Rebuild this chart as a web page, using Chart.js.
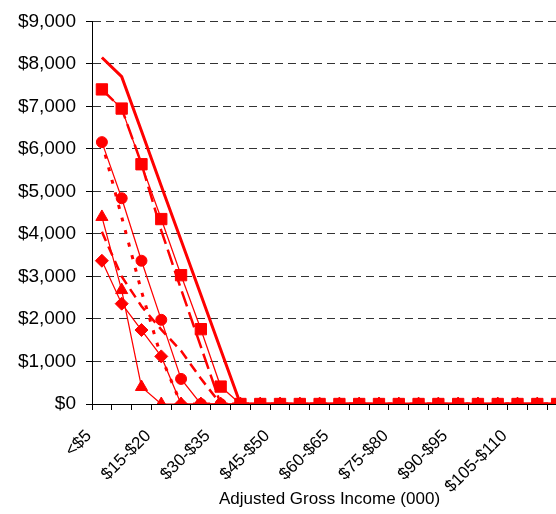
<!DOCTYPE html>
<html>
<head>
<meta charset="utf-8">
<script src="https://cdn.jsdelivr.net/npm/chart.js@4.4.1/dist/chart.umd.min.js"></script>
<style>
  html, body { margin: 0; padding: 0; background: #fff; overflow: hidden; }
  #wrap { width: 556px; height: 514px; overflow: hidden; }
</style>
</head>
<body>
<div id="wrap"><canvas id="agi-chart" width="576" height="514"></canvas></div>
<script>
// Income bands (thousands of dollars)
const incomeBands = [
  "<$5", "$5-$10", "$10-$15", "$15-$20", "$20-$25", "$25-$30",
  "$30-$35", "$35-$40", "$40-$45", "$45-$50", "$50-$55", "$55-$60",
  "$60-$65", "$65-$70", "$70-$75", "$75-$80", "$80-$85", "$85-$90",
  "$90-$95", "$95-$100", "$100-$105", "$105-$110", "$110-$115", "$115-$120"
];

// Series values
const thickSolid = [8150, 7700, 6420, 5130, 3850, 2570, 1280, 0, 0, 0, 0, 0,
                    0, 0, 0, 0, 0, 0, 0, 0, 0, 0, 0, 0];
const squares    = [7400, 6950, 5640, 4350, 3030, 1760, 410, 0, 0, 0, 0, 0,
                    0, 0, 0, 0, 0, 0, 0, 0, 0, 0, 0, 0];
const longDash   = [7400, 6950, 5650, 4080, 2700, 1350, 0, 0, 0, 0, 0, 0,
                    0, 0, 0, 0, 0, 0, 0, 0, 0, 0, 0, 0];
const circles    = [6160, 4840, 3370, 1980, 590, 0, 0, 0, 0, 0, 0, 0,
                    0, 0, 0, 0, 0, 0, 0, 0, 0, 0, 0, 0];
const dotted     = [6160, 4400, 2650, 1100, 0, 0, 0, 0, 0, 0, 0, 0,
                    0, 0, 0, 0, 0, 0, 0, 0, 0, 0, 0, 0];
const triangles  = [4400, 2680, 400, 0, 0, 0, 0, 0, 0, 0, 0, 0,
                    0, 0, 0, 0, 0, 0, 0, 0, 0, 0, 0, 0];
const dashed     = [4050, 3000, 2300, 1750, 1250, 600, 0, 0, 0, 0, 0, 0,
                    0, 0, 0, 0, 0, 0, 0, 0, 0, 0, 0, 0];
const diamonds   = [3370, 2360, 1740, 1120, 0, 0, 0, 0, 0, 0, 0, 0,
                    0, 0, 0, 0, 0, 0, 0, 0, 0, 0, 0, 0];

const yTicks = [0, 1000, 2000, 3000, 4000, 5000, 6000, 7000, 8000, 9000];

const RED = "#ff0000";

// ── helpers ───────────────────────────────────────────────
function series(data, extra) {
  return Object.assign({
    data,
    borderColor: RED,
    backgroundColor: RED,
    pointBackgroundColor: RED,
    pointBorderColor: RED,
    pointBorderWidth: 1,
    borderWidth: 1.25,
    pointRadius: 0,
    tension: 0,
    fill: false,
  }, extra);
}

Chart.defaults.font.family = '"Liberation Sans", Arial, sans-serif';
Chart.defaults.color = "#000";

// lower index = drawn on top
const datasets = [
  series(squares,   { pointStyle: "rect", pointRadius: 8 }),
  series(circles,   { pointStyle: "circle", pointRadius: 5.5 }),
  series(triangles, { pointStyle: "triangle", pointRadius: 7 }),
  series(diamonds,  { pointStyle: "rectRot", pointRadius: 6.5 }),
  series(thickSolid, { borderWidth: 3 }),
  series(longDash,  { borderWidth: 2.5, borderDash: [16, 6] }),
  series(dotted,    { borderWidth: 3, borderDash: [4, 9] }),
  series(dashed,    { borderWidth: 2.5, borderDash: [10, 6] }),
];

new Chart(document.getElementById("agi-chart"), {
  type: "line",
  data: { labels: incomeBands, datasets },
  options: {
    responsive: false,
    animation: false,
    layout: { padding: { top: 16, left: 0, right: 0, bottom: 0 } },
    plugins: { legend: { display: false }, tooltip: { enabled: false } },
    scales: {
      x: {
        offset: true,
        grid: { offset: true, drawOnChartArea: false, tickLength: 6, tickColor: "#000" },
        border: { color: "#000", width: 1 },
        ticks: {
          autoSkip: false,
          minRotation: 45,
          maxRotation: 45,
          padding: 16,
          labelOffset: -13,
          font: { size: 17 },
          callback: function (v, i) { return i % 3 === 0 ? this.getLabelForValue(v) : ""; },
        },
        title: {
          display: true,
          text: "Adjusted Gross Income (000)",
          font: { size: 17 },
          padding: { top: 0, bottom: 4 },
        },
        afterFit: s => { s.height = 110; s.paddingLeft = 0; s.paddingRight = 0; },
      },
      y: {
        min: yTicks[0],
        max: yTicks[yTicks.length - 1],
        afterBuildTicks: s => { s.ticks = yTicks.map(v => ({ value: v })); },
        ticks: {
          padding: 10,
          font: { size: 19 },
          callback: v => "$" + v.toLocaleString("en-US"),
        },
        grid: { color: "#333", lineWidth: 1, tickLength: 6, tickColor: "#000" },
        border: { color: "#000", width: 1, dash: [8, 5] },
        afterFit: s => { s.width = 92; },
      },
    },
  },
});
</script>
</body>
</html>
